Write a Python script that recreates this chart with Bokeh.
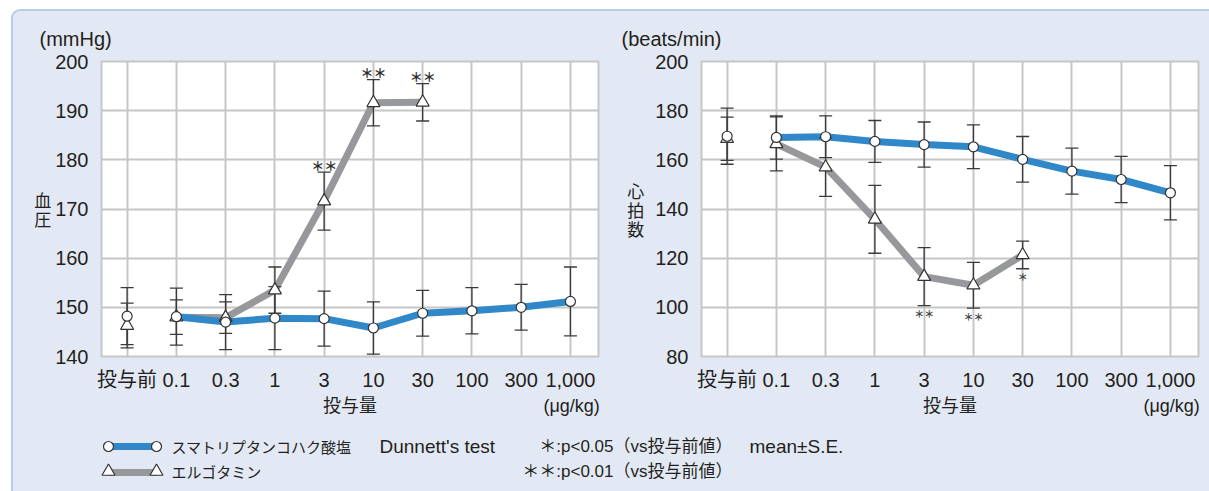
from bokeh.plotting import figure
from bokeh.models import Range1d, FixedTicker, LinearAxis
from bokeh.layouts import column, row
from bokeh.embed import file_html
from bokeh.resources import INLINE
from bokeh.core.properties import value

# ---- data -------------------------------------------------------------
doses = ["投与前", "0.1", "0.3", "1", "3", "10", "30", "100", "300", "1,000"]

# 血圧 (mmHg), mean and S.E.
bp_suma_mean = [148.2, 148.1, 147.0, 147.8, 147.7, 145.8, 148.8, 149.3, 150.0, 151.2]
bp_suma_se = [5.8, 5.8, 5.6, 6.4, 5.6, 5.3, 4.65, 4.7, 4.65, 7.0]
bp_ergo_mean = [146.3, 148.0, 147.9, 153.5, 171.6, 191.6, 191.7]
bp_ergo_se = [4.55, 3.5, 3.2, 4.7, 5.9, 4.7, 3.8]
bp_ergo_sig = ["", "", "", "", "＊＊", "＊＊", "＊＊"]

# 心拍数 (beats/min), mean and S.E.
hr_suma_mean = [169.6, 169.1, 169.4, 167.5, 166.2, 165.3, 160.2, 155.4, 152.0, 146.6]
hr_suma_se = [11.4, 8.8, 8.5, 8.5, 9.2, 8.9, 9.3, 9.35, 9.4, 11.05]
hr_ergo_mean = [168.6, 166.5, 157.0, 135.8, 112.5, 109.0, 121.3]
hr_ergo_se = [8.8, 11.0, 11.9, 13.8, 11.8, 9.3, 5.6]
hr_ergo_sig = ["", "", "", "", "＊＊", "＊＊", "＊"]

series_names = ["スマトリプタンコハク酸塩", "エルゴタミン"]
dose_caption = "投与量"
dose_unit = "(μg/kg)"

# ---- style ------------------------------------------------------------
PANEL = "#e3e9f4"
EDGE = "#b9cde7"
GRID = "#c6c6c6"
INK = "#231f20"
BLUE = "#3088c8"
GRAY = "#97989b"
BAR = "#3a3a3a"
LATIN = "Liberation Sans, Noto Sans CJK JP"
PLAIN = "Liberation Sans"
CJK = "Noto Sans CJK JP"


def bare(ax):
    ax.axis_line_color = None
    ax.major_tick_line_color = None
    ax.minor_tick_line_color = None
    ax.major_label_text_color = INK
    ax.major_label_text_font = LATIN


def chart(width, left_border, right_border, y_lo, y_hi, y_step,
          unit, unit_dx, name, name_gap):
    p = figure(width=width, height=409,
               x_range=Range1d(-0.52, 9.57), y_range=Range1d(y_lo, y_hi),
               output_backend="svg", toolbar_location=None,
               min_border_left=left_border, min_border_right=right_border,
               min_border_top=50, min_border_bottom=64)
    p.border_fill_color = None
    p.background_fill_color = "white"
    p.outline_line_color = GRID
    p.outline_line_width = 2

    # unit caption above the value axis
    p.title.text = unit
    p.title.align = "left"
    p.title.offset = unit_dx
    p.title.text_font = PLAIN
    p.title.text_font_size = "20px"
    p.title.text_font_style = "normal"
    p.title.text_color = INK
    p.title.standoff = 24

    p.xaxis.ticker = FixedTicker(ticks=list(range(len(doses))))
    p.xaxis.major_label_overrides = {i: d for i, d in enumerate(doses)}
    p.yaxis.ticker = FixedTicker(ticks=list(range(y_lo, y_hi + 1, y_step)))
    for ax in (p.xaxis, p.yaxis):
        bare(ax)
        ax.major_label_text_font_size = "20px"
    p.xaxis.major_label_standoff = 6
    p.yaxis.major_label_standoff = 7

    yax = p.yaxis[0]
    yax.axis_label = name
    yax.axis_label_standoff = name_gap
    yax.axis_label_text_font = CJK
    yax.axis_label_text_font_style = "normal"
    yax.axis_label_text_font_size = "17px"
    yax.axis_label_text_color = INK
    if "axis_label_orientation" in yax.properties():
        yax.axis_label_orientation = "horizontal"
    yax.axis_label_text_line_height = 0.76

    # caption row under the dose labels: 投与量 centred, unit flush right.
    # Its own 0..1000 span maps onto the frame width.
    frame_w = width - left_border - right_border
    span = 1000
    unit_half_px = 28
    unit_tick = span - round((unit_half_px - 1) * span / frame_w)
    p.extra_x_ranges = {"caption": Range1d(0, span)}
    cap = LinearAxis(x_range_name="caption",
                     ticker=FixedTicker(ticks=[span // 2, unit_tick]),
                     major_label_overrides={span // 2: dose_caption,
                                            unit_tick: dose_unit})
    bare(cap)
    cap.major_label_text_font_size = "18px"
    cap.major_label_standoff = -4
    p.add_layout(cap, "below")

    p.xgrid.grid_line_color = GRID
    p.ygrid.grid_line_color = GRID
    p.xgrid.grid_line_width = 2
    p.ygrid.grid_line_width = 2
    return p


def draw_series(p, suma_mean, suma_se, ergo_mean, ergo_se, ergo_sig,
                sig_size, sig_color, sig_style, sig_above):
    xs_s = list(range(len(suma_mean)))
    xs_e = list(range(len(ergo_mean)))
    # connecting lines start at the first dose (投与前 stands alone)
    p.line(xs_e[1:], ergo_mean[1:], line_color=GRAY, line_width=7)
    p.line(xs_s[1:], suma_mean[1:], line_color=BLUE, line_width=7)

    for xs, m, s in ((xs_e, ergo_mean, ergo_se), (xs_s, suma_mean, suma_se)):
        lo = [a - b for a, b in zip(m, s)]
        hi = [a + b for a, b in zip(m, s)]
        p.segment(x0=xs, y0=lo, x1=xs, y1=hi, line_color=BAR, line_width=1.3)
        p.scatter(xs, lo, marker="dash", size=13, line_color=BAR, line_width=1.3)
        p.scatter(xs, hi, marker="dash", size=13, line_color=BAR, line_width=1.3)

    p.scatter(xs_e, ergo_mean, marker="triangle", size=13,
              fill_color="white", line_color="#333333", line_width=1.2)
    p.scatter(xs_s, suma_mean, marker="circle", size=10,
              fill_color="white", line_color="#333333", line_width=1.2)

    if sig_above:
        ys = [a + b for a, b in zip(ergo_mean, ergo_se)]
        off = -7
    else:
        ys = [a - b for a, b in zip(ergo_mean, ergo_se)]
        off = 8
    p.text(xs_e, ys, text=ergo_sig, text_font=value(CJK), text_font_size=sig_size,
           text_font_style=sig_style, text_color=sig_color, text_align="center",
           text_baseline="middle", y_offset=off)


# ---- 血圧 -------------------------------------------------------------
p1 = chart(587, 88, 2, 140, 200, 10, "(mmHg)", -62, "血\n圧", 1)
draw_series(p1, bp_suma_mean, bp_suma_se, bp_ergo_mean, bp_ergo_se, bp_ergo_sig,
            "13px", "#2b2b2b", "bold", True)

# ---- 心拍数 -----------------------------------------------------------
p2 = chart(609, 101, 11, 80, 200, 20, "(beats/min)", -80, "心\n拍\n数", 8)
draw_series(p2, hr_suma_mean, hr_suma_se, hr_ergo_mean, hr_ergo_se, hr_ergo_sig,
            "10px", "#444444", "bold", False)

# ---- legend strip -----------------------------------------------------
leg = figure(width=1196, height=71, x_range=Range1d(13, 1209), y_range=Range1d(491, 420),
             output_backend="svg", toolbar_location=None,
             x_axis_type=None, y_axis_type=None, min_border=0)
leg.grid.visible = False
leg.outline_line_color = None
leg.background_fill_color = None
leg.border_fill_color = None

row_y = [446, 471]
sw_x = [108, 156]
leg.line(sw_x, [row_y[0]] * 2, line_color=BLUE, line_width=7)
leg.scatter(sw_x, [row_y[0]] * 2, marker="circle", size=10,
            fill_color="white", line_color="#333333", line_width=1.2)
leg.line(sw_x, [row_y[1] + 1] * 2, line_color=GRAY, line_width=7)
leg.scatter(sw_x, [row_y[1]] * 2, marker="triangle", size=13,
            fill_color="white", line_color="#333333", line_width=1.2)
leg.text([171, 171], row_y, text=series_names, text_font=value(CJK),
         text_font_size="15px", text_color=INK, text_baseline="middle")
leg.text([379, 749], [row_y[0]] * 2, text=["Dunnett's test", "mean±S.E."],
         text_font=value(PLAIN), text_font_size="19px", text_color=INK,
         text_baseline="middle")
leg.text([732, 732], row_y, text=["＊:p<0.05（vs投与前値）", "＊＊:p<0.01（vs投与前値）"],
         text_font=value(LATIN), text_font_size="17px", text_color=INK,
         text_align="right", text_baseline="middle")

root = column(row(p1, p2), leg, margin=(9, 0, 0, 11),
              styles={"background-color": PANEL,
                      "border-top": "2px solid " + EDGE,
                      "border-left": "2px solid " + EDGE,
                      "border-top-left-radius": "9px",
                      "overflow": "hidden"})

open("out.html", "w").write(file_html(root, INLINE))
